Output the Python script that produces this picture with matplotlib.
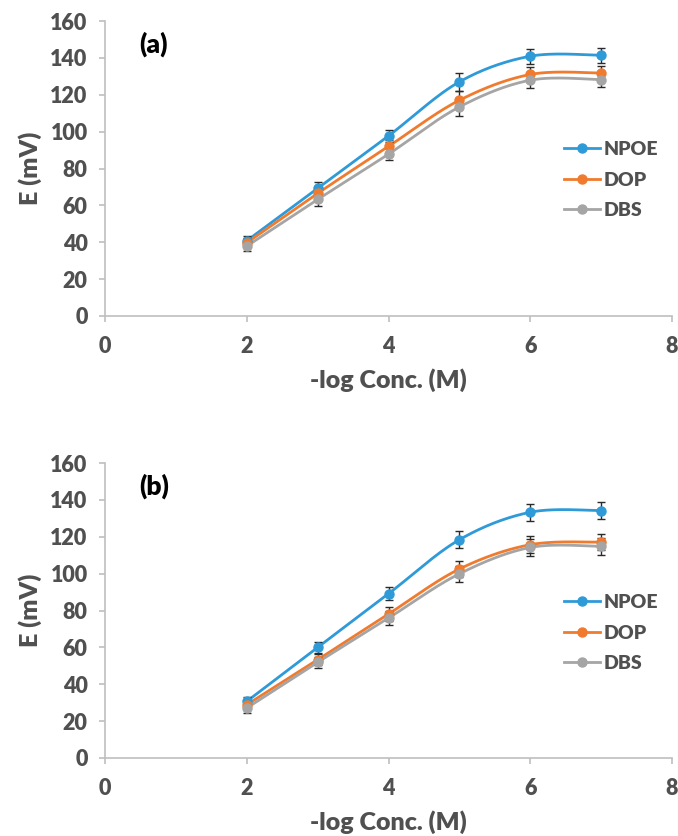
import matplotlib
matplotlib.use("Agg")
import matplotlib.pyplot as plt
import numpy as np

plt.rcParams['font.family'] = ['Lato', 'DejaVu Sans']

x = [2, 3, 4, 5, 6, 7]
series = ["NPOE", "DOP", "DBS"]
colors = ["#2F9AD8", "#F07B2E", "#A5A5A5"]

# panel (a)
a_npoe = [40.8, 69.2, 97.7, 127, 140.9, 141.4]
a_dop = [39.7, 66.5, 92, 117, 131, 131.8]
a_dbs = [37.9, 63.2, 87.8, 113.4, 127.9, 128.2]
a_err = [2.5, 3.3, 3.3, 4.9, 4, 4]

# panel (b)
b_npoe = [30.7, 60, 89.1, 118.4, 133.3, 134.2]
b_dop = [28.9, 53.3, 78.1, 102.5, 115.7, 117.1]
b_dbs = [27.1, 51.9, 75.9, 99.9, 114.2, 114.8]
b_err = [2.5, 3, 3.6, 4.5, 4.5, 4.5]


def smooth(xs, ys, n=30):
    # excel-like smoothed line (catmull-rom bezier)
    p = np.column_stack([xs, ys]).astype(float)
    p = np.vstack([p[0], p, p[-1]])
    out = []
    t = np.linspace(0, 1, n)[:, None]
    for i in range(1, len(p) - 2):
        p0, p3 = p[i], p[i + 1]
        c1 = p0 + (p[i + 1] - p[i - 1]) / 6
        c2 = p3 - (p[i + 2] - p[i]) / 6
        seg = (1 - t)**3 * p0 + 3 * (1 - t)**2 * t * c1 + 3 * (1 - t) * t**2 * c2 + t**3 * p3
        out.append(seg)
    out = np.vstack(out)
    return out[:, 0], out[:, 1]


W, H = 678, 836
txt = "#505050"
wt = "heavy"


def draw_panel(ax, data, err, tag, leg_top):
    handles = []
    for ys, c, name in zip(data, colors, series):
        sx, sy = smooth(x, ys)
        ax.plot(sx, sy, color=c, lw=2, zorder=2)
        ax.errorbar(x, ys, yerr=err, fmt="none", ecolor="#2a2a2a", elinewidth=1,
                    capsize=2.7, capthick=1, zorder=3)
        ax.plot(x, ys, "o", color=c, ms=6.5, zorder=4)
        hl, = ax.plot([], [], "-o", color=c, lw=2, ms=6.5, label=name)
        handles.append(hl)
    ax.set_xlim(0, 8)
    ax.set_ylim(0, 160)
    ax.set_xticks([0, 2, 4, 6, 8])
    ax.set_yticks(range(0, 161, 20))
    for s in ["top", "right"]:
        ax.spines[s].set_visible(False)
    for s in ["left", "bottom"]:
        ax.spines[s].set_color("#BFBFBF")
        ax.spines[s].set_linewidth(1.2)
    ax.tick_params(axis="both", colors="#BFBFBF", length=4.5, width=1.2,
                   labelcolor=txt, labelsize=15.5)
    ax.tick_params(axis="x", pad=10)
    ax.tick_params(axis="y", pad=8)
    for lab in ax.get_xticklabels() + ax.get_yticklabels():
        lab.set_fontweight(wt)
    ax.set_xlabel("-log Conc. (M)", fontsize=18, fontweight=wt, color=txt, labelpad=8)
    ax.set_ylabel("E (mV)", fontsize=18, fontweight=wt, color=txt, labelpad=6)
    ax.text(0.06, 0.92, tag, transform=ax.transAxes, fontsize=19, fontweight=wt,
            color="black", va="center")
    leg = ax.legend(handles=handles, loc="upper left",
                    bbox_to_anchor=(564 / W, 1 - leg_top / H), bbox_transform=fig.transFigure,
                    frameon=False, borderpad=0, borderaxespad=0,
                    handlelength=1.85, handletextpad=0.2, labelspacing=0.7,
                    prop={"family": "Lato", "weight": wt, "size": 14})
    for t in leg.get_texts():
        t.set_color(txt)


fig = plt.figure(figsize=(6.78, 8.36), dpi=100)
ax1 = fig.add_axes([105 / W, 1 - 316 / H, (672 - 105) / W, (316 - 21) / H])
ax2 = fig.add_axes([105 / W, 1 - 758 / H, (672 - 105) / W, (758 - 463) / H])

draw_panel(ax1, [a_npoe, a_dop, a_dbs], a_err, "(a)", 141)
draw_panel(ax2, [b_npoe, b_dop, b_dbs], b_err, "(b)", 594)

fig.savefig("out.png", dpi=100)
